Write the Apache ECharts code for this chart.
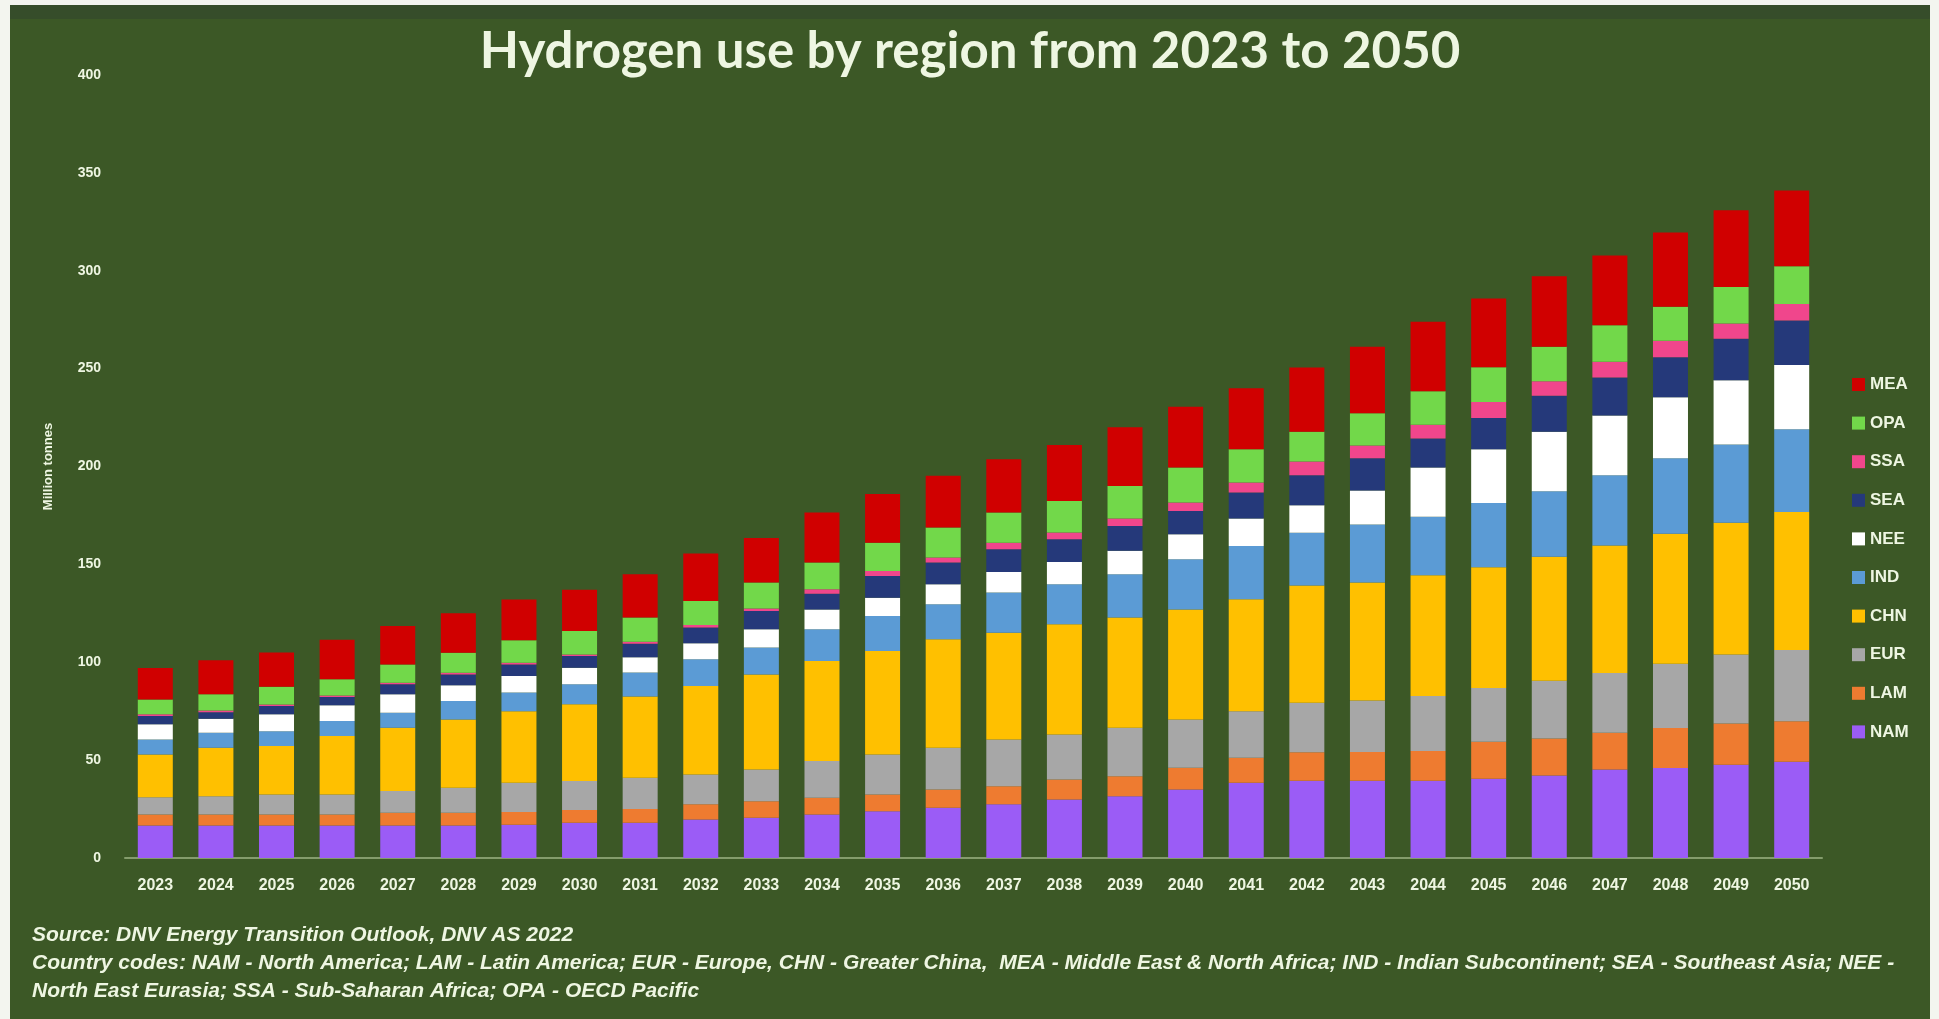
<!DOCTYPE html>
<html>
<head>
<meta charset="utf-8">
<script src="https://cdn.jsdelivr.net/npm/echarts@6/dist/echarts.min.js"></script>
<style>
  html, body { margin: 0; padding: 0; background: #f3f5ef; width: 1939px; height: 1019px; overflow: hidden; }
  #chart { position: absolute; left: 10px; top: 5px; width: 1920px; height: 1014px; }
</style>
</head>
<body>
<div id="chart"></div>
<script>
// ---- data (million tonnes) ----
const years = ['2023','2024','2025','2026','2027','2028','2029','2030','2031','2032','2033','2034','2035','2036','2037','2038','2039','2040','2041','2042','2043','2044','2045','2046','2047','2048','2049','2050'];
const yTicks = [0, 50, 100, 150, 200, 250, 300, 350, 400];

const NAM = [16.6,16.6,16.6,16.6,16.6,16.6,17.0,18.0,18.0,19.7,20.5,22.2,23.9,25.7,27.4,29.9,31.6,35.0,38.4,39.4,39.4,39.4,40.5,42.2,45.2,46.0,47.6,49.2];
const LAM = [5.6,5.6,5.6,5.6,6.5,6.5,6.5,6.5,7.0,7.7,8.5,8.6,8.6,9.3,9.3,10.2,10.2,11.1,12.8,14.6,14.8,15.2,18.9,18.8,18.8,20.4,21.1,20.7];
const EUR = [8.8,9.4,10.3,10.3,11.1,12.8,14.9,14.8,16.0,15.3,16.2,18.7,20.4,21.3,23.9,23.0,24.8,24.7,23.8,25.3,26.3,28.2,27.4,29.5,30.5,32.8,35.2,36.4];
const CHN = [21.9,24.7,24.7,29.8,32.4,34.9,36.6,39.2,41.5,45.2,48.6,51.1,52.8,55.4,54.5,56.3,56.2,56.2,57.2,59.9,60.3,61.7,61.7,63.4,65.1,66.5,67.4,70.4];
const IND = [7.7,7.7,7.6,7.7,7.6,9.4,9.5,10.2,12.2,13.6,13.7,16.2,17.9,17.9,20.5,20.4,22.1,25.6,27.2,27.0,29.6,29.8,32.9,33.4,35.9,38.5,39.9,42.3];
const NEE = [7.7,7.2,8.6,8.0,9.4,8.0,8.5,8.5,7.8,8.2,9.3,10.2,9.4,10.2,10.5,11.4,12.0,12.8,14.0,14.0,17.3,25.2,27.4,30.5,30.5,31.2,32.9,32.8];
const SEA = [4.2,3.3,4.2,4.2,5.1,5.6,5.9,6.0,7.0,8.0,9.4,8.0,11.1,11.1,11.6,11.6,12.7,11.9,13.3,15.3,16.5,14.8,16.0,18.3,19.5,20.4,21.1,22.8];
const SSA = [0.9,0.8,0.8,0.8,0.8,0.8,0.8,0.8,1.0,1.3,1.3,2.3,2.5,2.6,3.4,3.5,3.8,4.3,5.1,7.0,6.5,7.0,8.2,7.5,8.0,8.5,7.8,8.4];
const OPA = [7.6,8.3,9.1,8.3,9.4,10.3,11.6,12.0,12.3,12.3,13.2,13.6,14.5,15.3,15.4,16.1,16.7,17.9,17.0,15.3,16.5,17.1,17.7,17.6,18.7,17.3,18.7,19.3];
const MEA = [16.0,17.4,17.5,20.2,19.6,20.1,20.7,21.0,22.2,24.2,22.8,25.6,24.9,26.5,27.2,28.6,29.9,31.0,31.2,32.8,34.0,35.6,35.1,36.0,35.6,38.0,39.2,38.7];

const seriesNames = ['NAM','LAM','EUR','CHN','IND','NEE','SEA','SSA','OPA','MEA'];
const seriesData = [NAM, LAM, EUR, CHN, IND, NEE, SEA, SSA, OPA, MEA];
const seriesColors = ['#9b5cf6','#ee7b30','#a7a7a7','#ffc000','#5b9bd5','#ffffff','#25397a','#f0468c','#72d84a','#d00000'];
const legendOrder = ['MEA','OPA','SSA','SEA','NEE','IND','CHN','EUR','LAM','NAM'];

const titleText = 'Hydrogen use by region from 2023 to 2050';
const yName = 'Million tonnes';
const footer1 = 'Source: DNV Energy Transition Outlook, DNV AS 2022';
const footer2 = 'Country codes: NAM - North America; LAM - Latin America; EUR - Europe, CHN - Greater China,  MEA - Middle East & North Africa; IND - Indian Subcontinent; SEA - Southeast Asia; NEE -';
const footer3 = 'North East Eurasia; SSA - Sub-Saharan Africa; OPA - OECD Pacific';

const txt = '#eef6e2';
const chart = echarts.init(document.getElementById('chart'), null, { renderer: 'canvas' });

const option = {
  backgroundColor: '#3c5826',
  animation: false,
  title: {
    text: titleText,
    left: 'center',
    top: 16,
    textStyle: { color: txt, fontSize: 51, fontWeight: 'bold', fontFamily: 'Lato' }
  },
  legend: {
    data: legendOrder,
    orient: 'vertical',
    left: 1837,
    top: 366,
    itemWidth: 13,
    itemHeight: 13,
    itemGap: 21.6,
    icon: 'rect',
    textStyle: { color: txt, fontSize: 17, fontWeight: 'bold', lineHeight: 16, fontFamily: 'Liberation Sans' }
  },
  grid: { left: 115, right: 108, top: 70, bottom: 161, containLabel: false },
  xAxis: {
    type: 'category',
    data: years,
    axisTick: { show: false },
    axisLine: { show: true, lineStyle: { color: '#849c6c', width: 2 } },
    axisLabel: { color: txt, fontSize: 16, fontWeight: 'bold', margin: 20, interval: 0, fontFamily: 'Liberation Sans' }
  },
  yAxis: {
    type: 'value',
    min: yTicks[0],
    max: yTicks[yTicks.length - 1],
    interval: yTicks[1] - yTicks[0],
    name: yName,
    nameLocation: 'middle',
    nameGap: 70,
    nameTextStyle: { color: txt, fontSize: 13, fontWeight: 'bold', fontFamily: 'Liberation Sans' },
    splitLine: { show: false },
    axisLine: { show: false },
    axisTick: { show: false },
    axisLabel: { color: txt, fontSize: 14, fontWeight: 'bold', margin: 24, fontFamily: 'Liberation Sans' }
  },
  graphic: [
    { type: 'rect', left: 0, top: 0, shape: { width: 1920, height: 14 }, style: { fill: '#364d2a' }, silent: true },
    { type: 'text', left: 22, top: 920, style: { text: footer1, fill: txt, font: 'italic bold 21px Liberation Sans' } },
    { type: 'text', left: 22, top: 948, style: { text: footer2, fill: txt, font: 'italic bold 21px Liberation Sans' } },
    { type: 'text', left: 22, top: 976, style: { text: footer3, fill: txt, font: 'italic bold 21px Liberation Sans' } }
  ],
  series: seriesNames.map((name, i) => ({
    name: name,
    type: 'bar',
    stack: 'total',
    barWidth: 35,
    data: seriesData[i],
    itemStyle: { color: seriesColors[i] }
  }))
};
chart.setOption(option);
</script>
</body>
</html>
